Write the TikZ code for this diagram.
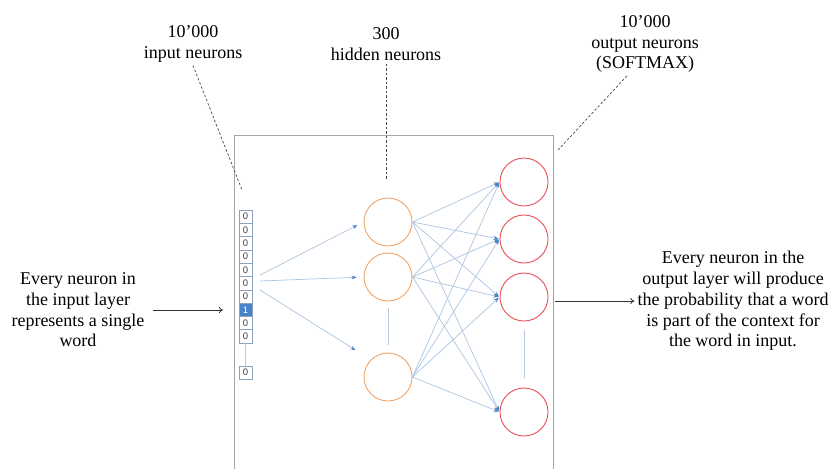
\documentclass[tikz,border=0pt]{standalone}
\usepackage{fontspec}
\setmainfont{Liberation Serif}
\newfontfamily\cellfont{Liberation Sans}
\usetikzlibrary{arrows.meta}

\definecolor{hidorange}{RGB}{241,163,104}
\definecolor{outred}{RGB}{232,78,88}
\definecolor{linkblue}{RGB}{170,196,226}
\definecolor{tipblue}{RGB}{72,128,198}
\definecolor{cellline}{RGB}{140,163,192}
\definecolor{hotcell}{RGB}{72,130,200}
\definecolor{frame}{RGB}{165,165,165}
\definecolor{calloutgrey}{RGB}{70,70,70}
\definecolor{sepgrey}{RGB}{185,200,218}

\tikzset{
  caption/.style={align=center, font=\fontsize{18}{20.7}\selectfont, inner sep=2pt},
  cell/.style={draw=cellline, line width=0.7pt, minimum width=13pt, minimum height=13.3pt,
    inner sep=0pt, font=\cellfont\fontsize{9.5}{10}\selectfont, text=black!75},
  hotcellstyle/.style={cell, fill=hotcell, text=white},
  hiddenunit/.style={circle, draw=hidorange, line width=0.9pt, minimum size=48pt, inner sep=0pt},
  outunit/.style={circle, draw=outred, line width=0.9pt, minimum size=48pt, inner sep=0pt},
  link/.style={draw=linkblue, line width=0.7pt, -{Stealth[length=5pt,width=4pt,color=tipblue]}},
  callout/.style={draw=calloutgrey, line width=0.7pt, dash pattern=on 2.5pt off 2pt},
  pointer/.style={draw=black!80, line width=0.8pt, -{To[length=4pt,width=6pt]}},
  separator/.style={draw=sepgrey, line width=0.6pt}
}

\begin{document}
\begin{tikzpicture}[x=1pt,y=-1pt]
\useasboundingbox (0,0) rectangle (834,469);

% frame around the network (open at the bottom)
\draw[frame, line width=0.8pt] (234,469) -- (234,135) -- (553,135) -- (553,469);

% one-hot input column
\foreach \i in {1,...,7,9,10} {
  \node[cell] (c\i) at (245.5,{203.4+13.3*\i}) {0};
}
\node[hotcellstyle] (c8) at (245.5,{203.4+13.3*8}) {1};
\node[cell] (c11) at (245.5,372.5) {0};
\draw[separator] (c10.south) -- (c11.north);

% hidden layer
\node[hiddenunit] (h1) at (388,222) {};
\node[hiddenunit] (h2) at (388,277) {};
\node[hiddenunit] (h3) at (388,377) {};
\draw[separator] ([yshift=-7pt]h2.south) -- ([yshift=8pt]h3.north);

% output layer
\node[outunit] (o1) at (524,182) {};
\node[outunit] (o2) at (524,239) {};
\node[outunit] (o3) at (524,297) {};
\node[outunit] (o4) at (524,412) {};
\draw[separator] ([yshift=-9pt]o3.south) -- ([yshift=10pt]o4.north);

% input to hidden
\coordinate (s1) at (260,275);
\coordinate (s2) at (260,281);
\coordinate (s3) at (260,290);
\draw[link, shorten >=7pt] (s1) -- (h1.west);
\draw[link, shorten >=7pt] (s2) -- (h2.west);
\draw[link, shorten >=18pt] (s3) -- (h3.north west);

% hidden to output, fully connected
\foreach \h in {1,2,3} {
  \foreach \o in {1,2,3,4} {
    \draw[link, shorten >=1pt] (h\h.east) -- (o\o.west);
  }
}

% layer captions with dashed callouts
\node[caption] (lab1) at (193,44) {10’000\\input neurons};
\node[caption] (lab2) at (386,44) {300\\hidden neurons};
\node[caption] (lab3) at (645,44) {10’000\\output neurons\\(SOFTMAX)};
\coordinate (t1) at (242,190);
\coordinate (t2) at (386,180);
\coordinate (t3) at (558,150);
\draw[callout] ([yshift=-1pt]lab1.south) -- (t1);
\draw[callout] ([yshift=-1pt]lab2.south) -- (t2);
\draw[callout] ([xshift=-18pt,yshift=-1pt]lab3.south) -- (t3);

% side explanations
\node[caption] (ltext) at (78,310) {Every neuron in\\the input layer\\represents a single\\word};
\coordinate (lin) at (223,310);
\draw[pointer, shorten <=6pt] (ltext) -- (lin);

\node[caption] (rtext) at (733,301) {Every neuron in the\\output layer will produce\\the probability that a word\\is part of the context for\\the word in input.};
\coordinate (rout) at (555,301);
\draw[pointer, shorten >=1pt] (rout) -- (rtext);
\end{tikzpicture}
\end{document}
